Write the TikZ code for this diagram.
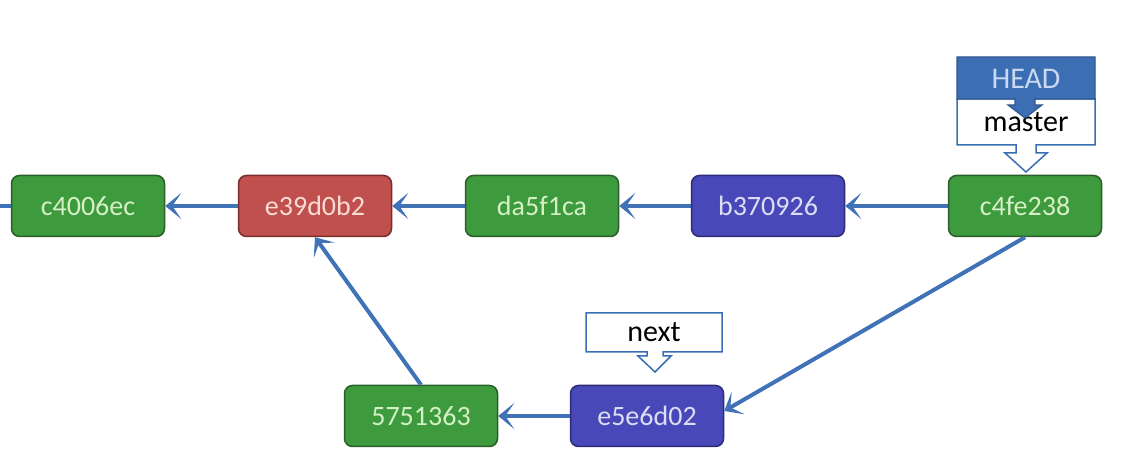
\documentclass[tikz,border=0pt]{standalone}
\usepackage{fontspec}
\setmainfont{Carlito}
\usetikzlibrary{arrows.meta}
\definecolor{linkblue}{HTML}{3F72B6}
\definecolor{gfill}{HTML}{3D9A3D}
\definecolor{gdraw}{HTML}{2A5E2A}
\definecolor{gtext}{HTML}{D6F0C6}
\definecolor{rfill}{HTML}{C0504D}
\definecolor{rdraw}{HTML}{7A2E2C}
\definecolor{rtext}{HTML}{F8DCD4}
\definecolor{bfill}{HTML}{4848B8}
\definecolor{bdraw}{HTML}{2C2C78}
\definecolor{btext}{HTML}{DDDDF6}
\definecolor{headfill}{HTML}{3C6EB4}
\definecolor{headtext}{HTML}{C9D9F1}
\definecolor{refdraw}{HTML}{3A6FB5}
\tikzset{
  commit/.style={draw, rounded corners=8pt, line width=1.5pt,
    minimum width=153pt, minimum height=61pt, inner sep=0pt,
    font=\fontsize{28}{30}\selectfont},
  green/.style={commit, fill=gfill, draw=gdraw, text=gtext},
  red/.style={commit, fill=rfill, draw=rdraw, text=rtext},
  blue/.style={commit, fill=bfill, draw=bdraw, text=btext},
  link/.style={draw=linkblue, line width=4pt,
    -{Stealth[length=16pt,width=26pt,inset=9pt]}},
  reflabel/.style={font=\fontsize{30}{32}\selectfont, inner sep=0pt}
}
\begin{document}
\begin{tikzpicture}[x=1pt,y=1pt]
\useasboundingbox[fill=white] (0,0) rectangle (1126,468);

% commits
\node[green] (c4006ec) at (88,262) {c4006ec};
\node[red]   (e39d0b2) at (315,262) {e39d0b2};
\node[green] (da5f1ca) at (542,262) {da5f1ca};
\node[blue]  (b370926) at (768,262) {b370926};
\node[green] (c4fe238) at (1025,262) {c4fe238};
\node[green] (n5751363) at (421,52) {5751363};
\node[blue]  (e5e6d02) at (647,52) {e5e6d02};

% parent links
\coordinate (offleft) at (0,262);
\draw[draw=linkblue, line width=4pt] (offleft) -- (c4006ec.west);
\draw[link] (c4fe238.west) -- (b370926.east);
\draw[link] (b370926.west) -- (da5f1ca.east);
\draw[link] (da5f1ca.west) -- (e39d0b2.east);
\draw[link] (e39d0b2.west) -- (c4006ec.east);
\draw[link] (c4fe238.south) -- ([yshift=5pt]e5e6d02.east);
\draw[link] (e5e6d02.west) -- (n5751363.east);
\draw[link] (n5751363.north) -- (e39d0b2.south);

% branch "master" callout
\draw[draw=refdraw, line width=1.5pt, fill=white]
  (957,369) -- (1095,369) -- (1095,323) -- (1036,323) -- (1036,315)
  -- (1047,315) -- (1026,296) -- (1005,315) -- (1016,315) -- (1016,323)
  -- (957,323) -- cycle;
\node[reflabel] (master) at (1026,346) {master};

% HEAD callout pointing at master
\draw[draw=headfill!80!black, line width=1.2pt, fill=headfill]
  (957,411) -- (1095,411) -- (1095,369) -- (1035,369) -- (1035,363)
  -- (1042,363) -- (1025,350) -- (1008,363) -- (1015,363) -- (1015,369)
  -- (957,369) -- cycle;
\node[reflabel, text=headtext] (head) at (1026,389) {HEAD};

% branch "next" callout
\draw[draw=refdraw, line width=1.5pt, fill=white]
  (586,155) -- (722,155) -- (722,116) -- (663,116) -- (663,112)
  -- (671,112) -- (655,96) -- (638,112) -- (647,112) -- (647,116)
  -- (586,116) -- cycle;
\node[reflabel] (next) at (654,136) {next};
\end{tikzpicture}
\end{document}
